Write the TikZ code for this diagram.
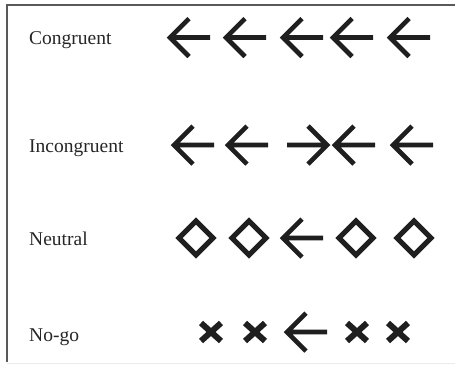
\documentclass[tikz,border=0pt]{standalone}
\usepackage{fontspec}
\setmainfont{Liberation Serif}
\begin{document}
\begin{tikzpicture}[x=1pt,y=-1pt,
  lbl/.style={anchor=base west,inner sep=0pt,font=\fontsize{19.5}{22}\selectfont,text=black!85},
  arw/.style={line width=4.6pt,line join=miter,miter limit=10,black!88},
  dia/.style={line width=5.2pt,line join=miter,black!88},
  crs/.style={line width=6pt,black!88}]
\useasboundingbox (0,0) rectangle (455,365);
% frame
\draw[line width=1.3pt,black!65] (455,5) -- (7,5) -- (7,362);
\draw[line width=0.8pt,black!8] (7,363) -- (455,363);
% labels
\node[lbl] (l1) at (29,44) {Congruent};
\node[lbl] (l2) at (29,152) {Incongruent};
\node[lbl] (l3) at (29,245) {Neutral};
\node[lbl] (l4) at (29,341) {No-go};
% arrows: left pointing
\newcommand{\larr}[2]{\draw[arw] (#1+19,#2-19) -- (#1,#2) -- (#1+19,#2+19) (#1,#2) -- (#1+40,#2);}
\newcommand{\rarr}[2]{\draw[arw] (#1+21,#2-19) -- (#1+40,#2) -- (#1+21,#2+19) (#1+40,#2) -- (#1,#2);}
\newcommand{\dmd}[2]{\draw[dia] (#1,#2-17) -- (#1+17,#2) -- (#1,#2+17) -- (#1-17,#2) -- cycle;}
\newcommand{\crx}[2]{\draw[crs] (#1-10,#2-9) -- (#1+10,#2+9) (#1-10,#2+9) -- (#1+10,#2-9);}
% Congruent
\larr{170}{37.5}
\larr{226}{37.5}
\larr{283}{37.5}
\larr{333}{37.5}
\larr{390}{37.5}
% Incongruent
\larr{174}{145}
\larr{228}{145}
\rarr{287}{145}
\larr{335}{145}
\larr{393}{145}
% Neutral
\dmd{196}{238}
\dmd{249}{238}
\larr{283}{238}
\dmd{356}{238}
\dmd{414}{238}
% No-go
\crx{211}{332}
\crx{255}{332}
\larr{287}{332}
\crx{357}{332}
\crx{398}{332}
\end{tikzpicture}
\end{document}
